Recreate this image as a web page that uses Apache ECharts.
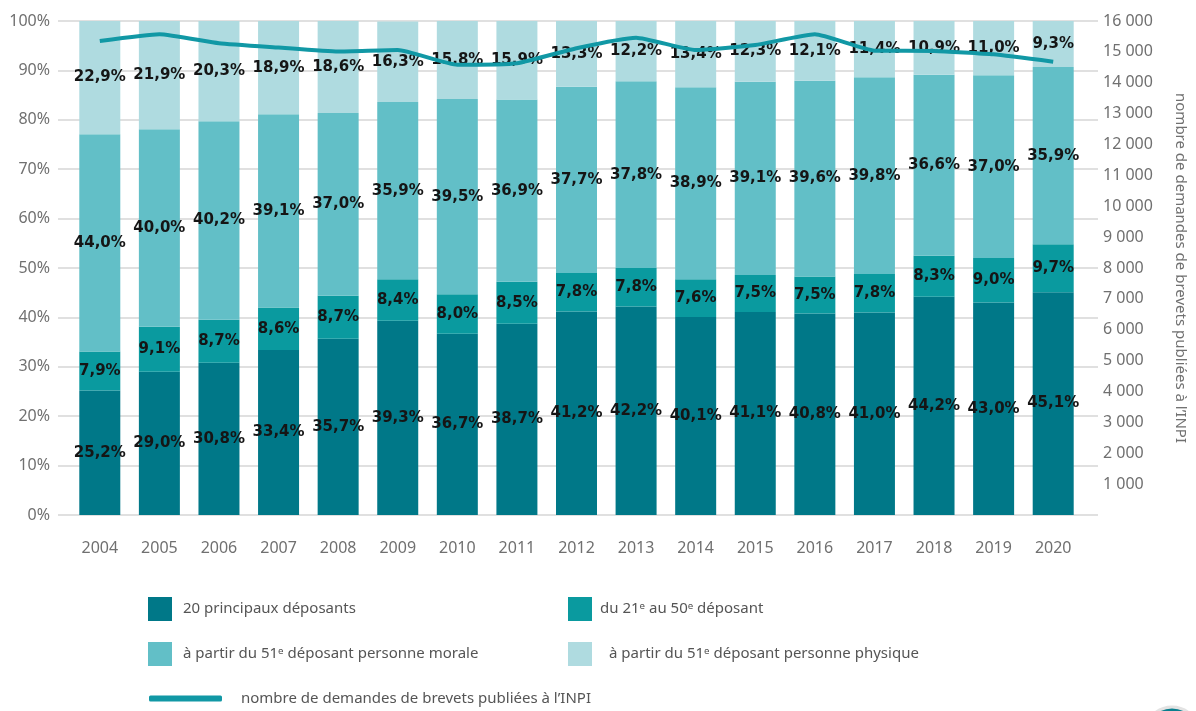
<!DOCTYPE html>
<html><head><meta charset="utf-8">
<script src="https://cdn.jsdelivr.net/npm/echarts/dist/echarts.min.js"></script>
<style>html,body{margin:0;padding:0;background:#fff}#c{width:1196px;height:711px}</style>
</head><body><div id="c"></div>
<script>
const years = ['2004','2005','2006','2007','2008','2009','2010','2011','2012','2013','2014','2015','2016','2017','2018','2019','2020'];
const top20 = [25.2, 29.0, 30.8, 33.4, 35.7, 39.3, 36.7, 38.7, 41.2, 42.2, 40.1, 41.1, 40.8, 41.0, 44.2, 43.0, 45.1];
const rank21to50 = [7.9, 9.1, 8.7, 8.6, 8.7, 8.4, 8.0, 8.5, 7.8, 7.8, 7.6, 7.5, 7.5, 7.8, 8.3, 9.0, 9.7];
const from51Morale = [44.0, 40.0, 40.2, 39.1, 37.0, 35.9, 39.5, 36.9, 37.7, 37.8, 38.9, 39.1, 39.6, 39.8, 36.6, 37.0, 35.9];
const from51Physique = [22.9, 21.9, 20.3, 18.9, 18.6, 16.3, 15.8, 15.9, 13.3, 12.2, 13.4, 12.3, 12.1, 11.4, 10.9, 11.0, 9.3];
const demandes = [15350, 15570, 15280, 15140, 15010, 15060, 14580, 14630, 15120, 15460, 15060, 15220, 15570, 15040, 15030, 14920, 14680];

const names = ['20 principaux déposants', 'du 21ᵉ au 50ᵉ déposant', 'à partir du 51ᵉ déposant personne morale', 'à partir du 51ᵉ déposant personne physique', 'nombre de demandes de brevets publiées à l’INPI'];
const colors = ['#007888', '#0A9A9F', '#62BFC7', '#AFDBE0'];
const lineColor = '#1198A5';
const gray = '#707070';
const axisFont = 'Noto Sans';

const pct = v => v.toFixed(1).replace('.', ',') + '%';
const thousands = v => v === 0 ? '' : String(v).replace(/\B(?=(\d{3})+(?!\d))/g, ' ');

function barSeries(i, data) {
  return {
    name: names[i], type: 'bar', stack: 'total', data: data,
    xAxisIndex: 0, yAxisIndex: 0, barWidth: 41,
    itemStyle: { color: colors[i] },
    label: { show: true, position: 'inside', formatter: p => pct(p.value),
      fontFamily: 'DejaVu Sans', fontWeight: 'bold', fontSize: 15, color: '#151515' },
    emphasis: { disabled: true }
  };
}
function legendAt(i, left, top, textPad, extra) {
  return Object.assign({
    data: [names[i]], left: left, top: top, padding: 0, icon: 'rect', itemWidth: 24, itemHeight: 24, itemGap: 10,
    textStyle: { fontFamily: axisFont, fontSize: 15, color: '#555', padding: [0, 0, 0, textPad] }, selectedMode: false
  }, extra || {});
}

const chart = echarts.init(document.getElementById('c'), null, { renderer: 'canvas' });
chart.setOption({
  animation: false,
  backgroundColor: '#fff',
  grid: [
    { left: 70, right: 106, top: 21, bottom: 196 },
    { left: 58, right: 98, top: 21, bottom: 196 }
  ],
  xAxis: [
    { type: 'category', data: years, gridIndex: 0,
      axisLine: { show: false }, axisTick: { show: false },
      axisLabel: { fontFamily: axisFont, fontSize: 16, color: gray, margin: 25 } },
    { type: 'value', gridIndex: 1, show: false, min: 0, max: 1 }
  ],
  yAxis: [
    { type: 'value', gridIndex: 0, min: 0, max: 100, show: false },
    { type: 'value', gridIndex: 0, position: 'right', min: 0, max: 16000, interval: 1000,
      axisLine: { show: false }, axisTick: { show: false }, splitLine: { show: false },
      axisLabel: { formatter: thousands, fontFamily: axisFont, fontSize: 16, color: gray, margin: 20 },
      name: names[4], nameLocation: 'middle', nameRotate: -90, nameGap: 90,
      nameTextStyle: { fontFamily: axisFont, fontSize: 15, color: gray } },
    { type: 'value', gridIndex: 1, min: 0, max: 100, interval: 10,
      axisLine: { show: false }, axisTick: { show: false },
      splitLine: { lineStyle: { color: '#d6d6d6', width: 1.5 } },
      axisLabel: { formatter: '{value}%', fontFamily: axisFont, fontSize: 16, color: gray, margin: 8 } }
  ],
  legend: [
    legendAt(0, 148, 597, 6),
    legendAt(1, 568, 597, 3),
    legendAt(2, 148, 642, 6),
    legendAt(3, 568, 642, 12),
    legendAt(4, 149, 691, 14, { icon: 'roundRect', itemWidth: 73, itemHeight: 6 })
  ],
  series: [
    barSeries(0, top20),
    barSeries(1, rank21to50),
    barSeries(2, from51Morale),
    barSeries(3, from51Physique),
    { name: names[4], type: 'line', data: demandes, xAxisIndex: 0, yAxisIndex: 1,
      smooth: 0.15, symbol: 'none', lineStyle: { color: lineColor, width: 4 },
      itemStyle: { color: lineColor }, emphasis: { disabled: true } }
  ],
  graphic: [
    { type: 'circle', shape: { cx: 1172, cy: 734, r: 27 },
      style: { fill: '#0A7F8E', stroke: '#e3e3e3', lineWidth: 3 }, silent: true }
  ]
});
</script>
</body></html>
